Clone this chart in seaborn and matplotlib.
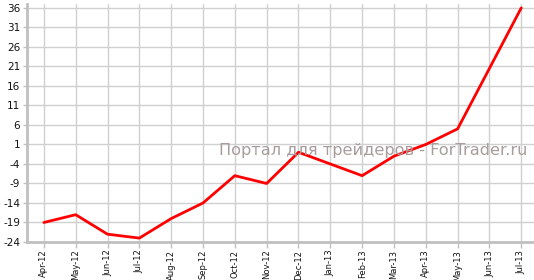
import matplotlib
matplotlib.use("Agg")
import matplotlib.pyplot as plt
import seaborn as sns
import pandas as pd

months = ["Apr-12", "May-12", "Jun-12", "Jul-12", "Aug-12", "Sep-12", "Oct-12", "Nov-12",
          "Dec-12", "Jan-13", "Feb-13", "Mar-13", "Apr-13", "May-13", "Jun-13", "Jul-13"]
values = [-19, -17, -22, -23, -18, -14, -7, -9, -1, -4, -7, -2, 1, 5, 20.5, 36]
y_ticks = [-24, -19, -14, -9, -4, 1, 6, 11, 16, 21, 26, 31, 36]
watermark = "Портал для трейдеров - ForTrader.ru"

sns.set_theme(style="white")
plt.rcParams['font.family'] = ['DejaVu Sans']

df = pd.DataFrame({"month": months, "value": values})
df["pos"] = range(len(months))

fig = plt.figure(figsize=(5.34, 2.80), dpi=100)
ax = fig.add_axes([27/534, 1 - 242/280, 1 - 27/534, (242 - 4)/280])

sns.lineplot(data=df, x="pos", y="value", ax=ax, color="#ff0000", linewidth=2, zorder=3)

ax.set_xlim(-0.53, 15.4)
ax.set_ylim(-24, 37)
ax.set_xticks(df["pos"])
ax.set_xticklabels(months, rotation=90, fontsize=6.0, color="#111111")
ax.set_yticks(y_ticks)
ax.set_yticklabels([str(t) for t in y_ticks], fontsize=7.5, color="#111111")
ax.set_xlabel("")
ax.set_ylabel("")

ax.grid(True, color="#d0d0d0", linewidth=1)
ax.set_axisbelow(True)
for s in ["top", "right"]:
    ax.spines[s].set_visible(False)
ax.spines["left"].set_color("#c0c0c0")
ax.spines["left"].set_linewidth(2)
ax.spines["bottom"].set_color("#c0c0c0")
ax.spines["bottom"].set_linewidth(2)
ax.tick_params(axis="x", length=4.5, width=1, color="#c0c0c0", pad=1, bottom=True)
ax.tick_params(axis="y", length=3, width=1, color="#c0c0c0", pad=2, left=True)

ax.text(527/534, 1 - 150/280, watermark, transform=fig.transFigure, ha="right", va="center",
        fontsize=11.6, color="#a89c9c")

fig.savefig("out.png", dpi=100)
